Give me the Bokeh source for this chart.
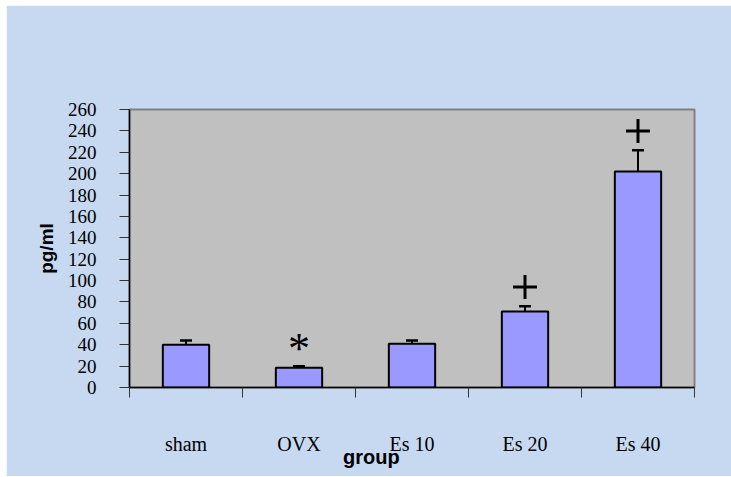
from bokeh.plotting import figure
from bokeh.models import Range1d, LinearAxis, FixedTicker, ColumnDataSource, Whisker, TeeHead
from bokeh.core.properties import value
from bokeh.embed import file_html
from bokeh.resources import INLINE

# Serum level per treatment group (mean and upward SEM)
groups = ["sham", "OVX", "Es 10", "Es 20", "Es 40"]
means = [40, 18.5, 41, 71, 202]
errors = [4, 1.3, 3, 5, 20]
# significance marks drawn above selected bars
star_groups = ["OVX"]
plus_groups = ["Es 20", "Es 40"]
y_ticks = list(range(0, 261, 20))

# each group occupies one unit on the x scale, centred at i + 0.5
centers = [i + 0.5 for i in range(len(groups))]
tops = [m + e for m, e in zip(means, errors)]
src = ColumnDataSource(dict(x=centers, top=means, upper=tops))

SERIF = "Liberation Serif"
SANS = "Liberation Sans"

p = figure(x_range=Range1d(0, len(groups)), y_range=Range1d(0, 260),
           width=725, height=471,
           x_axis_location=None, y_axis_location=None,
           toolbar_location=None, output_backend="svg",
           min_border_left=123, min_border_right=37,
           min_border_top=104, min_border_bottom=89)
p.margin = (5, 0, 0, 6)

p.background_fill_color = "#C0C0C0"
p.border_fill_color = "#C6D9F1"
p.outline_line_color = "#808080"
p.outline_line_width = 2
p.xgrid.visible = False
p.ygrid.visible = False

# y axis
yax = LinearAxis(ticker=FixedTicker(ticks=y_ticks))
yax.axis_line_color = "black"
yax.axis_line_width = 1.5
yax.major_tick_out = 10
yax.major_tick_in = 0
yax.major_tick_line_color = "#333333"
yax.minor_tick_line_color = None
yax.major_label_standoff = 23
yax.major_label_text_font = SERIF
yax.major_label_text_font_style = "normal"
yax.major_label_text_font_size = "19px"
yax.major_label_text_color = "black"
yax.axis_label = "pg/ml"
yax.axis_label_text_font = SANS
yax.axis_label_text_font_style = "bold"
yax.axis_label_text_font_size = "19px"
yax.axis_label_text_color = "black"
yax.axis_label_standoff = 8
p.add_layout(yax, "left")

# x axis: tick marks on the boundaries between groups
edges = list(range(len(groups) + 1))
edge_ax = LinearAxis(ticker=FixedTicker(ticks=edges))
edge_ax.axis_line_color = "black"
edge_ax.axis_line_width = 1.5
edge_ax.major_tick_out = 10
edge_ax.major_tick_in = 0
edge_ax.major_tick_line_color = "#333333"
edge_ax.minor_tick_line_color = None
edge_ax.major_label_overrides = {e: "" for e in edges}
edge_ax.major_label_text_font_size = "1px"
edge_ax.major_label_standoff = 0
p.add_layout(edge_ax, "below")

# x axis: group names centred under each bar
name_ax = LinearAxis(ticker=FixedTicker(ticks=centers))
name_ax.major_label_overrides = dict(zip(centers, groups))
name_ax.axis_line_color = None
name_ax.major_tick_line_color = None
name_ax.minor_tick_line_color = None
name_ax.major_tick_out = 0
name_ax.major_tick_in = 0
name_ax.major_label_standoff = 35
name_ax.major_label_text_font = SERIF
name_ax.major_label_text_font_style = "normal"
name_ax.major_label_text_font_size = "20px"
name_ax.major_label_text_color = "black"
p.add_layout(name_ax, "below")

# x axis title, set slightly left of centre and tucked under the names
title_x = 2.14
title_ax = LinearAxis(ticker=FixedTicker(ticks=[title_x]))
title_ax.major_label_overrides = {title_x: "group"}
title_ax.axis_line_color = None
title_ax.major_tick_line_color = None
title_ax.minor_tick_line_color = None
title_ax.major_tick_out = 0
title_ax.major_tick_in = 0
title_ax.major_label_standoff = -12
title_ax.major_label_text_font = SANS
title_ax.major_label_text_font_style = "bold"
title_ax.major_label_text_font_size = "20px"
title_ax.major_label_text_color = "black"
p.add_layout(title_ax, "below")

# bars
p.vbar(x="x", top="top", width=0.41, source=src,
       fill_color="#9999FF", line_color="black", line_width=2)

# upward error bars
p.add_layout(Whisker(source=src, base="x", lower="top", upper="upper",
                     line_color="black", line_width=2,
                     lower_head=None,
                     upper_head=TeeHead(size=12, line_color="black", line_width=2.5)))

# significance marks
star_x = [centers[groups.index(g)] for g in star_groups]
star_y = [tops[groups.index(g)] + 17 for g in star_groups]
p.text(x=star_x, y=star_y, text=["*"] * len(star_groups),
       text_font=value(SERIF), text_font_size="44px",
       text_align="center", text_baseline="alphabetic", text_color="black")
plus_x = [centers[groups.index(g)] for g in plus_groups]
plus_y = [tops[groups.index(g)] + 18 for g in plus_groups]
p.scatter(x=plus_x, y=plus_y, marker="cross", size=24,
          line_color="black", line_width=3)

open("out.html", "w").write(file_html(p, INLINE))
